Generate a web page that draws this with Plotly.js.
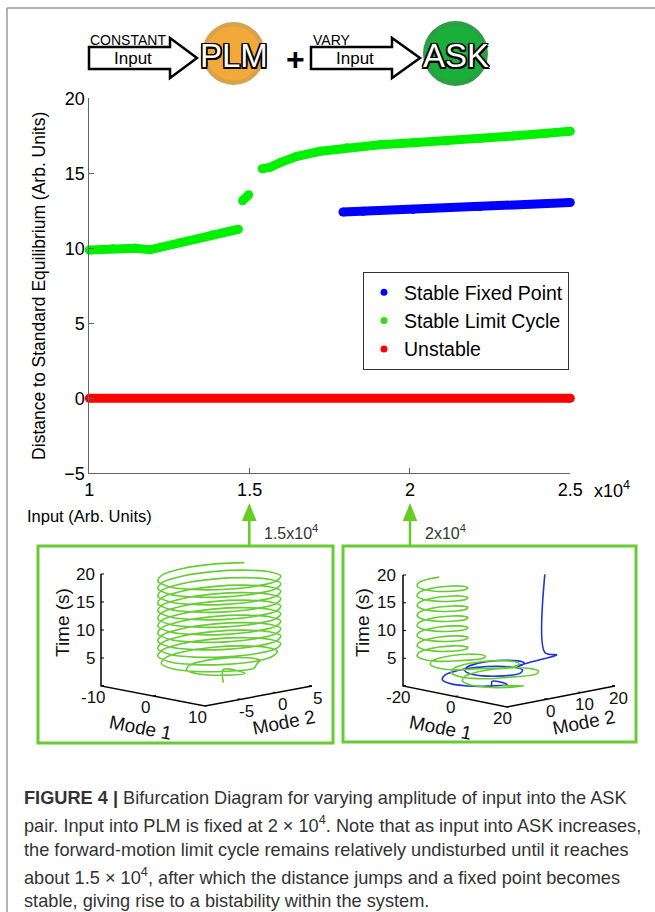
<!DOCTYPE html>
<html><head><meta charset="utf-8">
<script src="https://cdn.plot.ly/plotly-3.0.1.min.js"></script>
<style>html,body{margin:0;padding:0;background:#fff}#chart{width:655px;height:912px}</style>
</head><body><div id="chart"></div>
<script>
// ---------- main bifurcation diagram data ----------
const fixedPointInput = [17910, 18540, 20100, 22180, 25000];
const fixedPointDist  = [12.42, 12.47, 12.60, 12.78, 13.05];
const limitCycleInput = [10000, 10740, 11425, 11890, 12830, 13860, 14650, null,
                         14780, 14970, null,
                         15390, 15640, 15950, 16480, 17200, 18030, 19060, 20090, 21150, 22180, 23210, 24260, 25000];
const limitCycleDist  = [9.89, 9.97, 10.0, 9.90, 10.37, 10.90, 11.27, null,
                         13.17, 13.57, null,
                         15.30, 15.40, 15.71, 16.13, 16.47, 16.71, 16.90, 17.03, 17.15, 17.31, 17.49, 17.67, 17.80];
const unstableInput = [10000, 25000];
const unstableDist  = [0, 0];
const xTickVals = [10000, 15000, 20000, 25000];
const xTickText = ['1', '1.5', '2', '2.5'];
const yTickVals = [-5, 0, 5, 10, 15, 20];
const seriesNames = ['Stable Fixed Point', 'Stable Limit Cycle', 'Unstable'];

// ---------- inset trajectories (Mode 1, Mode 2, Time) ----------
const cosT = [1, 0.866, 0.5, 0, -0.5, -0.866, -1, -0.866, -0.5, 0, 0.5, 0.866];
const sinT = [0, 0.5, 0.866, 1, 0.866, 0.5, 0, -0.5, -0.866, -1, -0.866, -0.5];

// left inset (input 1.5x10^4): limit cycle only
const leftStart = [[0.5, -0.5, 0.2], [0.5, -0.5, 2.6]];
const leftLoopC1 = [0.5, 0, 0, 0, 0, 0, 0, 0, 0, 0, 0, 0, 0];
const leftLoopC2 = [-0.5, -0.7, -0.7, -0.7, -0.7, -0.7, -0.7, -0.7, -0.7, -0.7, -0.7, -0.7, -0.7];
const leftLoopR  = [4.2, 6.6, 7, 7, 7, 7, 7, 7, 7, 7, 7, 7, 7];
const leftLoopT0 = [2.6, 3.9, 5.24, 6.58, 7.92, 9.26, 10.6, 11.94, 13.28, 14.62, 15.96, 17.3, 18.64];
const leftLoopT1 = [3.9, 5.24, 6.58, 7.92, 9.26, 10.6, 11.94, 13.28, 14.62, 15.96, 17.3, 18.64, 19.98];
const leftLoopN  = [12, 12, 12, 12, 12, 12, 12, 12, 12, 12, 12, 12, 9];

// right inset (input 2x10^4): limit cycle (green) and fixed point (blue)
const rgStart = [[0, 2, 0.3]];
const rgLoopC1 = [-2, -4, -8, -10, -10, -10, -10, -10, -10, -10, -10];
const rgLoopC2 = [3, 0, -5, -8, -8, -8, -8, -8, -8, -8, -8];
const rgLoopR  = [9, 8, 6.5, 6, 6, 6, 6, 6, 6, 6, 6];
const rgLoopT0 = [0.8, 2.4, 4.0, 5.6, 7.4, 9.2, 11.0, 12.8, 14.6, 16.4, 18.2];
const rgLoopT1 = [2.4, 4.0, 5.6, 7.4, 9.2, 11.0, 12.8, 14.6, 16.4, 18.2, 20.0];
const rgLoopN  = [12, 12, 12, 12, 12, 12, 12, 12, 12, 12, 8];
const rbStart = [[-1.3, 0, 0], [-1.3, 0, 1.2]];
const rbLoopC1 = [-5, -3];
const rbLoopC2 = [0, 2];
const rbLoopR  = [9.5, 7];
const rbLoopT0 = [1.2, 2.6];
const rbLoopT1 = [2.6, 4.0];
const rbLoopN  = [12, 13];
const rbEnd = [[6, 9, 4.8], [8, 12, 5.4], [6, 10, 5.9], [6, 10, 20]];

// inset axes
const leftM1Range = [-10, 10], leftM2Range = [-10, 5], timeRange = [0, 20];
const leftM1Ticks = [-10, 0, 10], leftM2Ticks = [-5, 0, 5], timeTicks = [5, 10, 15, 20];
const rightM1Range = [-20, 20], rightM2Range = [-12, 20];
const rightM1Ticks = [-20, 0, 20], rightM2Ticks = [0, 10, 20];

// ---------- helpers ----------
const FONT = 'Liberation Sans, Arial, Helvetica, sans-serif';
const leftView  = {c: [205, 706], m1max: 10, m2min: -10, e1: [5.2, 1.0], e2: [7.13, -1.333], e3: -5.6, m1off: [-8, 11], m2off: [6, 12], tx: 97};
const rightView = {c: [507, 707], m1max: 20, m2min: -12, e1: [2.6, 0.525], e2: [3.375, -0.656], e3: -5.55, m1off: [-5, 11], m2off: [3, 12], tx: 398};
function proj(v, p) {
  const a = p[0] - v.m1max, b = p[1] - v.m2min;
  return [v.c[0] + a * v.e1[0] + b * v.e2[0], v.c[1] + a * v.e1[1] + b * v.e2[1] + p[2] * v.e3];
}
function buildPath(start, c1, c2, r, t0, t1, n, end) {
  const P = start.slice();
  for (let i = 0; i < c1.length; i++) {
    for (let k = 0; k < n[i]; k++) {
      const kk = k % 12;
      P.push([c1[i] + r[i] * cosT[kk], c2[i] - r[i] * sinT[kk], t0[i] + (t1[i] - t0[i]) * k / 12]);
    }
  }
  return P.concat(end || []);
}
function traj(v, pts, color) {
  const xy = pts.map(p => proj(v, p));
  return {x: xy.map(q => q[0]), y: xy.map(q => q[1]), xaxis: 'x2', yaxis: 'y2', mode: 'lines',
          line: {color: color, width: 1.6, shape: 'spline', smoothing: 0.9}, showlegend: false, hoverinfo: 'skip'};
}
function axesTraces(v, m1R, m2R, m1T, m2T) {
  const frame = [[m1R[0], m2R[0], timeRange[1]], [m1R[0], m2R[0], 0], [m1R[1], m2R[0], 0], [m1R[1], m2R[1], 0]].map(p => proj(v, p));
  const tx = [], ty = [];
  timeTicks.forEach(t => { const q = proj(v, [m1R[0], m2R[0], t]); tx.push(q[0], q[0] + 3, null); ty.push(q[1], q[1], null); });
  const n2 = Math.hypot(v.e2[0], v.e2[1]), n1 = Math.hypot(v.e1[0], v.e1[1]);
  m1T.forEach(m => { const q = proj(v, [m, m2R[0], 0]); tx.push(q[0], q[0] + 3 * v.e2[0] / n2, null); ty.push(q[1], q[1] + 3 * v.e2[1] / n2, null); });
  m2T.forEach(m => { const q = proj(v, [m1R[1], m, 0]); tx.push(q[0], q[0] - 3 * v.e1[0] / n1, null); ty.push(q[1], q[1] - 3 * v.e1[1] / n1, null); });
  return [
    {x: frame.map(q => q[0]), y: frame.map(q => q[1]), xaxis: 'x2', yaxis: 'y2', mode: 'lines', line: {color: '#000', width: 1.5}, showlegend: false, hoverinfo: 'skip'},
    {x: tx, y: ty, xaxis: 'x2', yaxis: 'y2', mode: 'lines', line: {color: '#000', width: 1}, showlegend: false, hoverinfo: 'skip'}
  ];
}
function axesLabels(v, m1R, m2R, m1T, m2T, m1Lab, m2Lab, timeLab) {
  const A = [];
  const f = {family: FONT, size: 17, color: '#111'};
  m1T.forEach(m => { const q = proj(v, [m, m2R[0], 0]); A.push({x: q[0] + v.m1off[0], y: q[1] + v.m1off[1], text: String(m), showarrow: false, font: f}); });
  m2T.forEach(m => { const q = proj(v, [m1R[1], m, 0]); A.push({x: q[0] + v.m2off[0], y: q[1] + v.m2off[1], text: String(m), showarrow: false, font: f}); });
  timeTicks.forEach(t => { const q = proj(v, [m1R[0], m2R[0], t]); A.push({x: v.tx, y: q[1], xanchor: 'right', text: String(t), showarrow: false, font: f}); });
  const lf = {family: FONT, size: 19, color: '#111'};
  A.push({x: m1Lab[0], y: m1Lab[1], text: 'Mode 1', textangle: 11, showarrow: false, font: lf});
  A.push({x: m2Lab[0], y: m2Lab[1], text: 'Mode 2', textangle: -11, showarrow: false, font: lf});
  A.push({x: timeLab[0], y: timeLab[1], text: 'Time (s)', textangle: -90, showarrow: false, font: lf});
  return A.map(a => Object.assign({xref: 'x2', yref: 'y2'}, a));
}

// ---------- traces ----------
const mainLine = (x, y, c) => ({x: x, y: y, mode: 'lines+markers', line: {color: c, width: 9}, marker: {color: c, size: 9},
  cliponaxis: false, showlegend: false, hoverinfo: 'skip', connectgaps: false});
const traces = [
  mainLine(unstableInput, unstableDist, '#ff0000'),
  mainLine(limitCycleInput, limitCycleDist, '#00f000'),
  mainLine(fixedPointInput, fixedPointDist, '#0000ff'),
  {x: [null], y: [null], mode: 'markers', name: seriesNames[0], marker: {color: '#0000ff', size: 7}},
  {x: [null], y: [null], mode: 'markers', name: seriesNames[1], marker: {color: '#33dd11', size: 7}},
  {x: [null], y: [null], mode: 'markers', name: seriesNames[2], marker: {color: '#ff0000', size: 7}}
];
const G = '#66cc33', B = '#2233dd';
traces.push(...axesTraces(leftView, leftM1Range, leftM2Range, leftM1Ticks, leftM2Ticks));
traces.push(traj(leftView, buildPath(leftStart, leftLoopC1, leftLoopC2, leftLoopR, leftLoopT0, leftLoopT1, leftLoopN, []), G));
traces.push(...axesTraces(rightView, rightM1Range, rightM2Range, rightM1Ticks, rightM2Ticks));
traces.push(traj(rightView, buildPath(rbStart, rbLoopC1, rbLoopC2, rbLoopR, rbLoopT0, rbLoopT1, rbLoopN, rbEnd), B));
traces.push(traj(rightView, buildPath(rgStart, rgLoopC1, rgLoopC2, rgLoopR, rgLoopT0, rgLoopT1, rgLoopN, []), G));

// ---------- shapes ----------
const S = (o) => Object.assign({xref: 'x2', yref: 'y2'}, o);
const shapes = [
  S({type: 'line', x0: 7, y0: 8, x1: 7, y1: 912, line: {color: '#9a9a9a', width: 1.5}}),
  S({type: 'line', x0: 7, y0: 8, x1: 655, y1: 8, line: {color: '#9a9a9a', width: 1.5}}),
  S({type: 'path', path: 'M 89 47 L 170 47 L 170 38 L 197 58 L 170 78 L 170 69 L 89 69 Z', fillcolor: '#fff', line: {color: '#000', width: 2.5}}),
  S({type: 'path', path: 'M 311 47 L 392 47 L 392 38 L 420 58 L 392 78 L 392 69 L 311 69 Z', fillcolor: '#fff', line: {color: '#000', width: 2.5}}),
  S({type: 'circle', x0: 202, x1: 265, y0: 22, y1: 85, fillcolor: '#d8a24c', line: {width: 0}}),
  S({type: 'circle', x0: 206.5, x1: 260.5, y0: 26.5, y1: 80.5, fillcolor: '#f2a93a', line: {width: 0}}),
  S({type: 'circle', x0: 423, x1: 488, y0: 21, y1: 86, fillcolor: '#2e9e45', line: {width: 0}}),
  S({type: 'circle', x0: 427.5, x1: 483.5, y0: 25.5, y1: 81.5, fillcolor: '#1aae3a', line: {width: 0}}),
  S({type: 'rect', x0: 38, x1: 333, y0: 546, y1: 743, line: {color: '#66cc33', width: 3}}),
  S({type: 'rect', x0: 343, x1: 636, y0: 546, y1: 742, line: {color: '#66cc33', width: 3}}),
  S({type: 'line', x0: 249.3, x1: 249.3, y0: 518, y1: 546, line: {color: '#66cc22', width: 2.5}}),
  S({type: 'path', path: 'M 242 521 L 249.3 503 L 256.6 521 Z', fillcolor: '#66cc22', line: {width: 0}}),
  S({type: 'line', x0: 410, x1: 410, y0: 518, y1: 546, line: {color: '#66cc22', width: 2.5}}),
  S({type: 'path', path: 'M 402.7 521 L 410 503 L 417.3 521 Z', fillcolor: '#66cc22', line: {width: 0}})
];

// ---------- annotations ----------
const A = (o) => Object.assign({xref: 'x2', yref: 'y2', showarrow: false}, o);
const outline = '-1.5px -1.5px 0 #000, 1.5px -1.5px 0 #000, -1.5px 1.5px 0 #000, 1.5px 1.5px 0 #000, 0 1.5px 0 #000, 0 -1.5px 0 #000, 1.5px 0 0 #000, -1.5px 0 0 #000';
const capF = {family: FONT, size: 18.2, color: '#333'};
const annotations = [
  A({x: 88, y: 40, xanchor: 'left', text: 'CONSTANT', font: {family: FONT, size: 14, color: '#000'}}),
  A({x: 133, y: 58, text: 'Input', font: {family: FONT, size: 17, color: '#000'}}),
  A({x: 311, y: 40, xanchor: 'left', text: 'VARY', font: {family: FONT, size: 14, color: '#000'}}),
  A({x: 355, y: 58, text: 'Input', font: {family: FONT, size: 17, color: '#000'}}),
  A({x: 234, y: 55, text: 'PLM', font: {family: FONT, size: 33, color: '#fff', shadow: outline}}),
  A({x: 456, y: 55, text: 'ASK', font: {family: FONT, size: 33, color: '#fff', shadow: outline}}),
  A({x: 295, y: 59, text: '<b>+</b>', font: {family: FONT, size: 32, color: '#000'}}),
  A({x: 592, y: 489, xanchor: 'left', text: 'x10<sup>4</sup>', font: {family: FONT, size: 18, color: '#000'}}),
  A({x: 25, y: 516, xanchor: 'left', text: 'Input (Arb. Units)', font: {family: FONT, size: 16.5, color: '#000'}}),
  A({x: 262, y: 532, xanchor: 'left', text: '1.5x10<sup>4</sup>', font: {family: FONT, size: 16, color: '#333'}}),
  A({x: 423, y: 532, xanchor: 'left', text: '2x10<sup>4</sup>', font: {family: FONT, size: 16, color: '#333'}}),
  A({x: 22, y: 798, xanchor: 'left', text: '<b>FIGURE 4 |</b> Bifurcation Diagram for varying amplitude of input into the ASK', font: capF}),
  A({x: 22, y: 824, xanchor: 'left', text: 'pair. Input into PLM is fixed at 2 × 10<sup>4</sup>. Note that as input into ASK increases,', font: capF}),
  A({x: 22, y: 850, xanchor: 'left', text: 'the forward-motion limit cycle remains relatively undisturbed until it reaches', font: capF}),
  A({x: 22, y: 876, xanchor: 'left', text: 'about 1.5 × 10<sup>4</sup>, after which the distance jumps and a fixed point becomes', font: capF}),
  A({x: 22, y: 901, xanchor: 'left', text: 'stable, giving rise to a bistability within the system.', font: capF})
].concat(
  axesLabels(leftView, leftM1Range, leftM2Range, leftM1Ticks, leftM2Ticks, [140, 727], [283, 722], [62, 623]),
  axesLabels(rightView, rightM1Range, rightM2Range, rightM1Ticks, rightM2Ticks, [440, 727], [583, 722], [362, 623])
);

const layout = {
  width: 655, height: 912, margin: {l: 0, r: 0, t: 0, b: 0},
  paper_bgcolor: '#fff', plot_bgcolor: 'rgba(0,0,0,0)',
  font: {family: FONT, color: '#000'},
  xaxis: {domain: [89.3 / 655, 570.3 / 655], range: [10000, 25000], tickvals: xTickVals, ticktext: xTickText,
          ticks: 'inside', ticklen: 5, tickcolor: '#666', showline: true, linecolor: '#666', linewidth: 1,
          showgrid: false, zeroline: false, tickfont: {size: 18, color: '#000'}, anchor: 'y', fixedrange: true},
  yaxis: {domain: [1 - 473.3 / 912, 1 - 98.3 / 912], range: [-5, 20], tickvals: yTickVals,
          ticks: 'inside', ticklen: 5, tickcolor: '#666', showline: true, linecolor: '#666', linewidth: 1,
          showgrid: false, zeroline: false, tickfont: {size: 18, color: '#000'}, anchor: 'x', fixedrange: true,
          title: {text: 'Distance to Standard Equilibrium (Arb. Units)', font: {size: 17.5, color: '#000'}, standoff: 14}},
  xaxis2: {domain: [0, 1], range: [0, 655], visible: false, anchor: 'y2', fixedrange: true},
  yaxis2: {domain: [0, 1], range: [912, 0], visible: false, anchor: 'x2', fixedrange: true},
  showlegend: true,
  legend: {x: 569 / 655, xanchor: 'right', y: 1 - 272 / 912, yanchor: 'top', bordercolor: '#333', borderwidth: 1,
           bgcolor: '#fff', font: {size: 19.5, color: '#000'}, traceorder: 'normal', itemwidth: 30},
  shapes: shapes, annotations: annotations
};
Plotly.newPlot('chart', traces, layout, {staticPlot: true, displayModeBar: false});
</script></body></html>
